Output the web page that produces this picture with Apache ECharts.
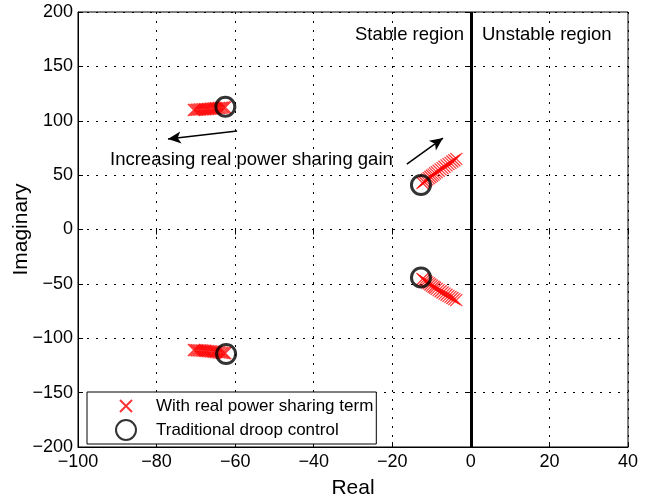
<!DOCTYPE html>
<html>
<head>
<meta charset="utf-8">
<script src="https://cdn.jsdelivr.net/npm/echarts@6/dist/echarts.min.js"></script>
<style>
  html, body { margin: 0; padding: 0; background: #fff; }
  #main { width: 660px; height: 502px; }
</style>
</head>
<body>
<div id="main"></div>
<script>
// tick values
var xTicks = [-100, -80, -60, -40, -20, 0, 20, 40];
var yTicks = [-200, -150, -100, -50, 0, 50, 100, 150, 200];

// eigenvalues with real power sharing term (red crosses), [real, imag]
var upperLeft = [
    [-62.5, 112.3], [-62.9, 112.2], [-63.3, 112.0], [-63.7, 111.9], [-64.1, 111.7],
    [-64.5, 111.6], [-64.9, 111.5], [-65.3, 111.3], [-65.7, 111.2], [-66.1, 111.1],
    [-66.5, 110.9], [-66.9, 110.8], [-67.3, 110.7], [-67.7, 110.6], [-68.1, 110.5],
    [-68.5, 110.4], [-68.9, 110.3], [-69.3, 110.2], [-69.7, 110.1], [-70.1, 110.0],
    [-70.5, 109.9]
];
var lowerLeft = [
    [-62.5, -113.8], [-62.9, -113.6], [-63.3, -113.4], [-63.7, -113.2], [-64.1, -113.0],
    [-64.5, -112.8], [-64.9, -112.6], [-65.3, -112.4], [-65.7, -112.3], [-66.1, -112.1],
    [-66.5, -112.0], [-66.9, -111.8], [-67.3, -111.7], [-67.7, -111.5], [-68.1, -111.4],
    [-68.5, -111.3], [-68.9, -111.2], [-69.3, -111.1], [-69.7, -111.0], [-70.1, -110.9],
    [-70.5, -110.8]
];
var upperRight = [
    [-12.3, 42.8], [-11.9, 43.9], [-11.5, 45.0], [-11.1, 46.1], [-10.7, 47.2],
    [-10.3, 48.3], [-9.9, 49.4], [-9.5, 50.5], [-9.1, 51.6], [-8.7, 52.7],
    [-8.2, 54.0], [-7.7, 55.3], [-7.2, 56.5], [-6.7, 57.7], [-6.2, 58.9],
    [-5.7, 60.1], [-5.2, 61.3], [-4.7, 62.5], [-4.2, 63.7], [-3.7, 64.9]
];
var lowerRight = [
    [-12.3, -45.5], [-11.9, -46.6], [-11.5, -47.6], [-11.1, -48.6], [-10.7, -49.6],
    [-10.3, -50.6], [-9.9, -51.6], [-9.5, -52.6], [-9.1, -53.6], [-8.7, -54.6],
    [-8.2, -55.7], [-7.7, -56.8], [-7.2, -57.9], [-6.7, -59.0], [-6.2, -60.0],
    [-5.7, -61.0], [-5.2, -62.0], [-4.7, -63.0], [-4.2, -64.0], [-3.7, -65.0]
];
var withSharing = upperLeft.concat(lowerLeft, upperRight, lowerRight);

// traditional droop control eigenvalues (black circles)
var droop = [[-62.5, 112.8], [-62.3, -114.5], [-12.7, 40.9], [-12.7, -44.1]];

// arrows [from, to]
var arrows = [
    [[-59.5, 90.6], [-77.1, 83.2]],
    [[-16.3, 60.2], [-7.1, 84.1]]
];

var font = 'Liberation Sans, Arial, Helvetica, sans-serif';

function minus(v) {
    return String(v).replace('-', '\u2212');
}

var myChart = echarts.init(document.getElementById('main'));

var option = {
    backgroundColor: '#fff',
    animation: false,
    textStyle: { fontFamily: font },
    grid: {
        left: 78, right: 32, top: 12, bottom: 55,
        outerBoundsMode: 'none',
        containLabel: false,
        show: true, borderColor: '#000', borderWidth: 1, backgroundColor: '#fff'
    },
    legend: {
        orient: 'vertical',
        left: 87, top: 392,
        padding: [3, 3, 3, 28],
        itemGap: 2,
        itemWidth: 20, itemHeight: 20,
        backgroundColor: '#fff',
        borderColor: '#000', borderWidth: 1, borderRadius: 0,
        textStyle: { fontSize: 17, color: '#000', fontFamily: font, padding: [0, 0, 0, 15] },
        data: [
            { name: 'With real power sharing term', icon: 'path://M0,0M4,4L16,16M16,4L4,16M20,20' },
            { name: 'Traditional droop control', icon: 'circle' }
        ]
    },
    xAxis: [{
        type: 'value', min: -100, max: 40, interval: 20,
        name: 'Real', nameLocation: 'middle', nameGap: 31, nameMoveOverlap: false,
        nameTextStyle: { fontSize: 21, color: '#000', fontFamily: font },
        axisLine: { onZero: false, lineStyle: { color: '#000', width: 1 } },
        axisTick: { inside: true, length: 5, lineStyle: { color: '#000' } },
        axisLabel: { fontSize: 18, color: '#000', margin: 6, formatter: minus },
        splitLine: { show: true, lineStyle: { color: '#000', type: [2, 7], width: 1 } }
    }, {
        type: 'value', min: -100, max: 40, interval: 20, position: 'top',
        axisLine: { show: false },
        axisTick: { inside: true, length: 5, lineStyle: { color: '#000' } },
        axisLabel: { show: false }, splitLine: { show: false }
    }],
    yAxis: [{
        type: 'value', min: -200, max: 200, interval: 50,
        name: 'Imaginary', nameLocation: 'middle', nameGap: 46, nameMoveOverlap: false,
        nameTextStyle: { fontSize: 21, color: '#000', fontFamily: font },
        axisLine: { onZero: false, lineStyle: { color: '#000', width: 1 } },
        axisTick: { inside: true, length: 5, lineStyle: { color: '#000' } },
        axisLabel: { fontSize: 18, color: '#000', margin: 5, formatter: minus },
        splitLine: { show: true, lineStyle: { color: '#000', type: [2, 7], width: 1 } }
    }, {
        type: 'value', min: -200, max: 200, interval: 50, position: 'right',
        axisLine: { show: false },
        axisTick: { inside: true, length: 5, lineStyle: { color: '#000' } },
        axisLabel: { show: false }, splitLine: { show: false }
    }],
    series: [
        {
            name: 'With real power sharing term',
            type: 'scatter',
            symbol: 'path://M0,0L10,10M10,0L0,10',
            symbolSize: 12,
            itemStyle: { color: 'rgba(0,0,0,0)', borderColor: '#ff0000', borderWidth: 1.2 },
            data: withSharing,
            z: 3
        },
        {
            name: 'Traditional droop control',
            type: 'scatter',
            symbol: 'circle',
            symbolSize: 19,
            itemStyle: { color: 'rgba(0,0,0,0)', borderColor: '#000', borderWidth: 3 },
            data: droop,
            z: 4
        },
        {
            name: 'guides',
            type: 'line',
            data: [],
            markLine: {
                silent: true,
                symbol: ['none', 'none'],
                label: { show: false },
                lineStyle: { color: '#000', width: 3, type: 'solid' },
                data: [{ xAxis: 0 }]
            }
        },
        {
            name: 'arrows',
            type: 'line',
            data: [],
            markLine: {
                silent: true,
                symbol: ['none', 'arrow'],
                symbolSize: [9, 13],
                label: { show: false },
                lineStyle: { color: '#000', width: 1.5, type: 'solid' },
                data: arrows.map(function (a) {
                    return [{ coord: a[0] }, { coord: a[1] }];
                })
            }
        }
    ],
    graphic: [
        { type: 'text', x: 355, y: 35, style: { text: 'Stable region', font: '18.5px ' + font, fill: '#000', verticalAlign: 'middle' } },
        { type: 'text', x: 482, y: 35, style: { text: 'Unstable region', font: '18.5px ' + font, fill: '#000', verticalAlign: 'middle' } },
        { type: 'text', x: 110, y: 160, style: { text: 'Increasing real power sharing gain', font: '18.5px ' + font, fill: '#000', verticalAlign: 'middle' } }
    ]
};

myChart.setOption(option);

window.addEventListener('resize', function () {
    myChart.resize();
});
</script>
</body>
</html>
